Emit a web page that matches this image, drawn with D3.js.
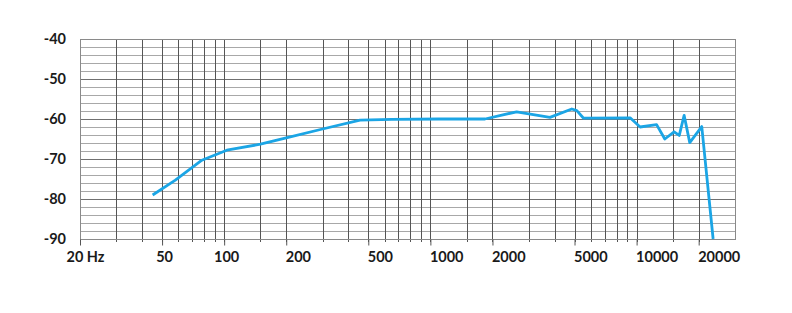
<!DOCTYPE html>
<html>
<head>
<meta charset="utf-8">
<script src="https://cdn.jsdelivr.net/npm/d3@7"></script>
<style>
	body { margin: 0; background: #fff; }
	svg { display: block; }
	.lbl text { font-family: Lato, "Open Sans", sans-serif; font-weight: bold; font-size: 14.5px; fill: #1a1a1a; }
</style>
</head>
<body>
<svg id="chart" width="792" height="313"></svg>
<script>
	// response curve (Hz / dB)
	var freqs = [45, 58, 78, 103, 150, 200, 300, 456, 650, 1100, 1840, 2620, 3800, 4850, 5130, 5530, 9300, 10400, 12500, 13700, 15200, 16100, 17000, 18100, 20700, 23500];
	var levels = [-79, -75.3, -70.3, -67.8, -66.3, -64.7, -62.5, -60.3, -60.1, -60, -60, -58.2, -59.6, -57.5, -57.9, -59.8, -59.7, -62, -61.4, -65, -63.2, -64.1, -59.1, -65.9, -61.9, -90];

	// vertical grid lines
	var gridFreqs = [30, 40, 50, 60, 70, 80, 90, 100, 150, 200, 300, 400, 500, 600, 700, 800, 900,
		1000, 1500, 2000, 3000, 4000, 5000, 6000, 7000, 8000, 9000, 10000, 15000, 20000];
	var xTickValues = [20, 50, 100, 200, 500, 1000, 2000, 5000, 10000, 20000];
	var xTickLabels = ['20 Hz', '50', '100', '200', '500', '1000', '2000', '5000', '10000', '20000'];
	var yTickValues = [-40, -50, -60, -70, -80, -90];
	var yMinorValues = [-42, -44, -46, -48, -52, -54, -56, -58, -62, -64, -66, -68, -72, -74, -76, -78, -82, -84, -86, -88];

	(function() {
		var svg = d3.select('#chart');
		var left = 80, right = 735, plotTop = 39, plotBottom = 239;

		var x = d3.scaleLog().domain([20, 30000]).range([left, right]);
		var y = d3.scaleLinear().domain([-90, -40]).range([plotBottom, plotTop]);

		var grid = svg.append('g').attr('shape-rendering', 'crispEdges');

		grid.selectAll('.hminor')
			.data(yMinorValues)
			.enter().append('line')
			.attr('x1', left).attr('x2', right)
			.attr('y1', function(d) { return Math.round(y(d)) + 0.5; })
			.attr('y2', function(d) { return Math.round(y(d)) + 0.5; })
			.attr('stroke', '#a8a8a8');

		grid.selectAll('.hmajor')
			.data(yTickValues)
			.enter().append('line')
			.attr('x1', left).attr('x2', right)
			.attr('y1', function(d) { return Math.round(y(d)) + 0.5; })
			.attr('y2', function(d) { return Math.round(y(d)) + 0.5; })
			.attr('stroke', '#707070');

		grid.selectAll('.v')
			.data(gridFreqs)
			.enter().append('line')
			.attr('x1', function(d) { return Math.round(x(d)) + 0.5; })
			.attr('x2', function(d) { return Math.round(x(d)) + 0.5; })
			.attr('y1', plotTop).attr('y2', plotBottom + 3)
			.attr('stroke', '#555');

		// frame
		grid.append('rect')
			.attr('x', left + 0.5).attr('y', plotTop + 0.5)
			.attr('width', right - left).attr('height', plotBottom - plotTop)
			.attr('fill', 'none')
			.attr('stroke', '#8a8a8a');

		// x axis: labelled ticks
		var xAxis = svg.append('g')
			.attr('class', 'lbl')
			.attr('transform', 'translate(0,' + (plotBottom + 0.5) + ')')
			.call(d3.axisBottom(x)
				.tickValues(xTickValues)
				.tickSize(6)
				.tickPadding(6)
				.tickFormat(function(d, i) { return xTickLabels[i]; }));
		xAxis.select('.domain').remove();
		xAxis.selectAll('.tick line').attr('stroke', '#555');
		xAxis.selectAll('.tick text')
			.attr('text-anchor', function(d) { return d <= 100 ? 'middle' : 'start'; })
			.attr('dx', function(d) { return d === 20 ? 5 : (d <= 100 ? 2 : -1); });

		// y axis labels
		var yAxis = svg.append('g')
			.attr('class', 'lbl')
			.attr('transform', 'translate(' + left + ',0)')
			.call(d3.axisLeft(y)
				.tickValues(yTickValues)
				.tickSize(0)
				.tickPadding(14)
				.tickFormat(function(d) { return d; }));
		yAxis.select('.domain').remove();

		// response curve
		var pts = freqs.map(function(f, i) { return [f, levels[i]]; });
		svg.append('path')
			.datum(pts)
			.attr('fill', 'none')
			.attr('stroke', '#1ba5e5')
			.attr('stroke-width', 2.8)
			.attr('stroke-linejoin', 'round')
			.attr('d', d3.line()
				.x(function(d) { return x(d[0]); })
				.y(function(d) { return y(d[1]); }));
	})();
</script>
</body>
</html>
